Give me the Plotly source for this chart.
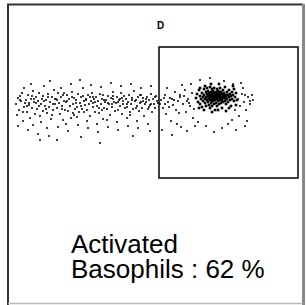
import plotly.graph_objects as go

# Event positions (plot units ~ pixels of original)
left_x = [16,18,19,21,22,24,17,23,20,25,18,24,
          26,27,28,29,30,31,32,33,34,28,31,35,27,33,
          36,37,38,39,40,41,42,43,44,38,41,45,36,43,40,
          46,47,48,49,50,51,52,53,54,47,50,55,49,52,
          56,57,58,59,60,61,62,63,64,58,61,65,57,63,
          66,67,68,69,70,71,72,73,74,68,71,75,66,73,
          76,77,78,79,80,81,82,83,84,78,81,85,77,83,80,
          86,87,88,89,90,91,92,93,94,88,91,95,87,93,
          96,97,98,99,100,101,102,103,104,98,101,105,97,103,100,
          106,107,108,109,110,111,112,113,114,108,111,115,107,113,
          116,117,118,119,120,121,122,123,124,118,121,125,117,123,
          126,127,128,129,130,131,132,133,134,128,131,135,127,133,
          136,137,138,139,140,141,142,143,144,138,141,145,137,143,
          146,147,148,149,150,151,152,153,154,156,148,151,155,157,150]
left_y = [104,98,110,101,93,107,115,121,96,103,126,88,
          100,112,95,105,118,99,108,91,102,130,84,114,106,125,
          97,109,101,93,116,104,99,111,86,134,122,106,103,96,140,
          100,113,94,107,102,119,97,110,90,128,81,104,136,115,
          99,108,93,103,114,97,106,120,101,127,88,110,140,95,
          102,95,111,99,106,118,92,104,98,131,84,109,124,113,
          100,107,94,112,103,97,109,88,101,125,137,105,117,96,80,
          99,110,95,104,116,101,93,107,99,128,85,112,121,103,
          97,106,101,113,94,104,99,119,108,132,87,102,124,95,143,
          100,109,96,104,115,98,107,92,102,127,83,111,120,99,
          103,97,110,100,106,93,114,101,96,130,86,108,122,104,
          99,107,102,95,112,104,98,109,91,126,84,101,118,136,
          100,106,97,111,103,95,108,101,116,128,88,104,121,98,
          102,97,109,100,105,94,112,99,104,96,124,86,108,101,131]

extra_x = [20,29,34,39,44,48,53,57,62,67,72,76,81,86,90,95,99,104,108,113,118,122,127,132,136,141,146,151,155,158,
           23,32,46,55,64,74,84,93,102,112,120,130,140,149,
           165,172,180,187,194,245,250,235]
extra_y = [100,103,99,106,101,97,104,100,109,101,97,103,106,100,97,102,108,100,103,96,102,98,104,100,108,102,99,104,97,103,
           112,96,109,99,93,115,112,97,110,104,99,115,95,107,
           104,99,95,101,109,95,101,110]

right_x = [161,163,165,166,168,170,171,173,175,176,178,180,181,183,185,186,188,190,191,193,
           162,167,172,177,182,187,160,164,169,174,179,184,189,192,
           238,240,242,244,246,248,250,253,239,243,247,241,252,245,236,232,228,222,214,206,198,200,210,224,233,195]
right_y = [100,108,95,114,102,98,121,105,92,110,101,97,127,104,90,112,99,106,84,118,
           130,88,135,124,85,131,104,98,107,100,113,96,103,93,
           99,106,94,102,110,97,104,100,116,88,121,83,95,126,130,120,124,128,132,126,122,80,78,81,84,126]

core_x = [196,197,198,199,200,200,201,202,202,203,203,204,204,205,205,206,206,206,207,207,207,
          208,208,208,209,209,209,210,210,210,210,211,211,211,212,212,212,212,213,213,213,
          214,214,214,214,215,215,215,216,216,216,217,217,217,217,218,218,218,219,219,219,
          220,220,220,221,221,221,222,222,222,223,223,223,224,224,225,225,225,226,226,227,227,
          228,228,229,229,230,230,231,231,232,232,233,234,234,235,236,237,229,226,218,212,204,199,
          236,233,219,211,205,200,
          209,211,213,215,217,219,221,223,212,214,216,218,220,222,210,224,216,213,220,226,208,227]
core_y = [98,94,102,90,96,104,99,93,107,97,101,89,95,103,99,92,97,106,94,100,88,
          96,102,91,98,105,93,95,100,87,108,97,92,103,94,99,89,106,96,101,91,
          98,93,104,88,95,100,110,97,92,103,94,99,89,106,96,101,91,98,93,104,
          95,100,88,97,92,103,94,99,108,96,90,102,98,93,95,101,87,97,104,92,99,
          95,102,90,97,100,94,96,106,92,99,95,101,89,97,93,100,108,111,110,112,110,108,
          105,86,84,84,86,88,
          96,95,98,97,96,95,98,94,101,100,99,98,97,101,97,96,94,93,92,99,99,95]

# Gate and frame (plot units)
gate = dict(x0=159, y0=47, x1=298, y1=178)
gate_label = "D"
result_lines = ["Activated", "Basophils : 62 %"]

fig = go.Figure()
fig.add_trace(go.Scatter(x=left_x + extra_x + right_x, y=left_y + extra_y + right_y, mode="markers",
                         marker=dict(symbol="square", size=1.9, color="rgba(0,0,0,0.8)", line=dict(width=0)),
                         hoverinfo="skip"))
fig.add_trace(go.Scatter(x=core_x, y=core_y, mode="markers",
                         marker=dict(symbol="square", size=2.6, color="black", line=dict(width=0)),
                         hoverinfo="skip"))

# outer frame (paper-referenced pixels via axis units)
fig.add_shape(type="line", x0=7, y0=4.5, x1=303, y1=4.5, line=dict(color="#333", width=2))
fig.add_shape(type="line", x0=8, y0=4, x1=8, y1=305, line=dict(color="#333", width=2))
fig.add_shape(type="line", x0=303.5, y0=4, x1=303.5, y1=305, line=dict(color="#888", width=3))
fig.add_shape(type="line", x0=8, y0=303.5, x1=303, y1=303.5, line=dict(color="#bbb", width=1.5))
# gate
fig.add_shape(type="rect", **gate, line=dict(color="black", width=1.5))

fig.add_annotation(x=160, y=25, text=f"<b>{gate_label}</b>", showarrow=False,
                   font=dict(family="Liberation Sans, Arial", size=10, color="black"))
fig.add_annotation(x=69, y=243.5, text=result_lines[0], showarrow=False, xanchor="left", yanchor="middle",
                   font=dict(family="Liberation Sans, Arial", size=26, color="black"))
fig.add_annotation(x=69, y=268.5, text=result_lines[1], showarrow=False, xanchor="left", yanchor="middle",
                   font=dict(family="Liberation Sans, Arial", size=26, color="black"))

fig.update_layout(width=306, height=305, margin=dict(l=0, r=0, t=0, b=0),
                  paper_bgcolor="white", plot_bgcolor="white", showlegend=False,
                  xaxis=dict(range=[0, 306], visible=False, fixedrange=True),
                  yaxis=dict(range=[305, 0], visible=False, fixedrange=True))
fig.write_html("out.html", config={"displayModeBar": False},
               post_script="document.body.style.margin='0';document.body.style.overflow='hidden';")
